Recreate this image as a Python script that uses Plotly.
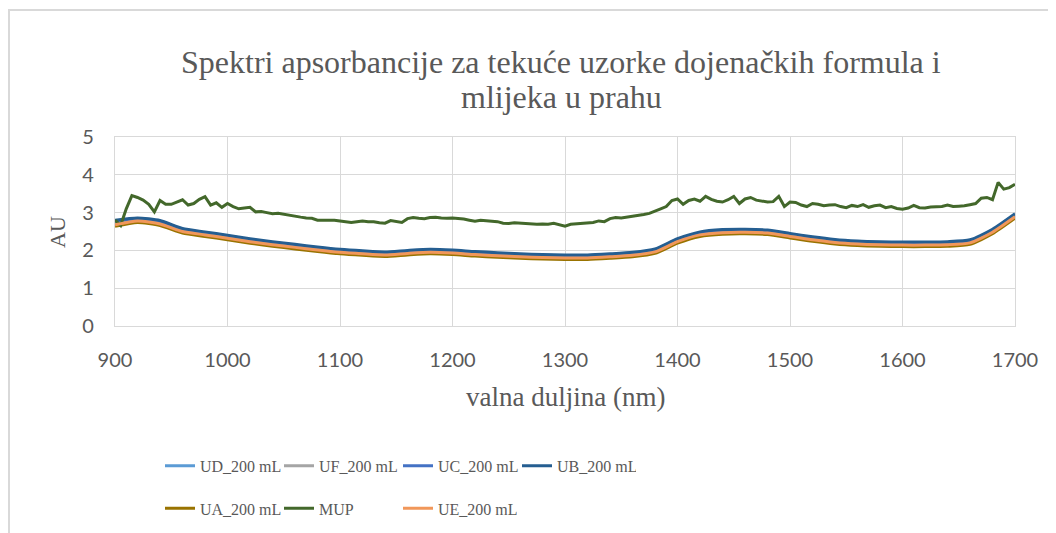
import plotly.graph_objects as go

# ---- data ----
wl_smooth = list(range(900, 1701, 20))

ud_200 = [2.75, 2.82, 2.75, 2.54, 2.45, 2.36, 2.27, 2.19, 2.12, 2.05, 1.99, 1.95, 1.92, 1.96, 1.99, 1.97, 1.93, 1.90, 1.87, 1.85, 1.84,
          1.84, 1.87, 1.91, 2.00, 2.27, 2.45, 2.51, 2.52, 2.50, 2.41, 2.32, 2.25, 2.21, 2.19, 2.18, 2.18, 2.19, 2.24, 2.52, 2.93]
uf_200 = [2.72, 2.80, 2.73, 2.52, 2.43, 2.34, 2.25, 2.17, 2.10, 2.03, 1.97, 1.93, 1.90, 1.94, 1.97, 1.95, 1.91, 1.88, 1.85, 1.83, 1.82,
          1.82, 1.85, 1.89, 1.98, 2.25, 2.43, 2.49, 2.50, 2.48, 2.39, 2.30, 2.23, 2.19, 2.17, 2.16, 2.16, 2.17, 2.22, 2.50, 2.91]
uc_200 = [2.78, 2.84, 2.77, 2.56, 2.47, 2.38, 2.29, 2.21, 2.14, 2.07, 2.01, 1.97, 1.94, 1.98, 2.01, 1.99, 1.95, 1.92, 1.89, 1.87, 1.86,
          1.86, 1.89, 1.93, 2.02, 2.29, 2.47, 2.53, 2.54, 2.52, 2.43, 2.34, 2.27, 2.23, 2.21, 2.20, 2.20, 2.21, 2.26, 2.54, 2.95]
ub_200 = [2.80, 2.86, 2.79, 2.58, 2.49, 2.40, 2.31, 2.23, 2.16, 2.09, 2.03, 1.99, 1.96, 2.00, 2.03, 2.01, 1.97, 1.94, 1.91, 1.89, 1.88,
          1.88, 1.91, 1.95, 2.04, 2.31, 2.49, 2.55, 2.56, 2.54, 2.45, 2.36, 2.29, 2.25, 2.23, 2.22, 2.22, 2.23, 2.28, 2.56, 2.97]
ua_200 = [2.64, 2.74, 2.66, 2.46, 2.37, 2.28, 2.19, 2.11, 2.04, 1.97, 1.91, 1.87, 1.84, 1.88, 1.91, 1.89, 1.85, 1.82, 1.79, 1.77, 1.76,
          1.76, 1.79, 1.83, 1.92, 2.19, 2.37, 2.43, 2.44, 2.42, 2.33, 2.24, 2.17, 2.13, 2.11, 2.10, 2.10, 2.11, 2.16, 2.44, 2.85]
ue_200 = [2.68, 2.78, 2.70, 2.50, 2.41, 2.32, 2.23, 2.15, 2.08, 2.01, 1.95, 1.91, 1.88, 1.92, 1.95, 1.93, 1.89, 1.86, 1.83, 1.81, 1.80,
          1.80, 1.83, 1.87, 1.96, 2.23, 2.41, 2.47, 2.48, 2.46, 2.37, 2.28, 2.21, 2.17, 2.15, 2.14, 2.14, 2.15, 2.20, 2.48, 2.89]

wl_mup = list(range(900, 1701, 5))
mup = [2.80, 2.66, 3.10, 3.45, 3.40, 3.33, 3.22, 3.02, 3.32, 3.22, 3.22, 3.28, 3.34, 3.20, 3.24, 3.35, 3.42, 3.20, 3.26, 3.14,
       3.24, 3.16, 3.10, 3.12, 3.14, 3.02, 3.03, 3.00, 2.97, 2.98, 2.95, 2.93, 2.90, 2.88, 2.86, 2.85, 2.80, 2.80, 2.81, 2.80,
       2.78, 2.76, 2.74, 2.76, 2.78, 2.76, 2.76, 2.73, 2.72, 2.79, 2.76, 2.74, 2.84, 2.87, 2.85, 2.84, 2.87, 2.88, 2.86, 2.85,
       2.86, 2.85, 2.83, 2.80, 2.77, 2.80, 2.79, 2.77, 2.76, 2.72, 2.71, 2.73, 2.72, 2.70, 2.71, 2.69, 2.70, 2.69, 2.72, 2.68,
       2.64, 2.69, 2.70, 2.70, 2.72, 2.74, 2.78, 2.76, 2.84, 2.87, 2.86, 2.88, 2.90, 2.93, 2.95, 2.98, 3.03, 3.10, 3.16, 3.32,
       3.36, 3.22, 3.32, 3.36, 3.30, 3.43, 3.35, 3.30, 3.28, 3.34, 3.43, 3.24, 3.36, 3.40, 3.33, 3.30, 3.28, 3.29, 3.43, 3.16,
       3.28, 3.27, 3.20, 3.16, 3.24, 3.22, 3.18, 3.20, 3.21, 3.16, 3.13, 3.19, 3.16, 3.21, 3.14, 3.18, 3.20, 3.13, 3.16, 3.11,
       3.09, 3.12, 3.19, 3.13, 3.12, 3.15, 3.16, 3.16, 3.20, 3.16, 3.17, 3.18, 3.21, 3.24, 3.38, 3.40, 3.34, 3.80, 3.62, 3.66,
       3.75]

x_ticks = [900, 1000, 1100, 1200, 1300, 1400, 1500, 1600, 1700]
y_ticks = [0, 1, 2, 3, 4, 5]

title_line1 = "Spektri apsorbancije za tekuće uzorke dojenačkih formula i"
title_line2 = "mlijeka u prahu"
x_title = "valna duljina (nm)"
y_title = "AU"

SERIF = "Liberation Serif"
SANS = "Lato"
GREY = "#595959"
GRID = "#D9D9D9"

fig = go.Figure()

smooth_series = [
    ("UD_200 mL", ud_200, "#5B9BD5", "legend"),
    ("UF_200 mL", uf_200, "#A5A5A5", "legend"),
    ("UC_200 mL", uc_200, "#4472C4", "legend"),
    ("UB_200 mL", ub_200, "#255E91", "legend"),
    ("UA_200 mL", ua_200, "#997300", "legend2"),
]
for name, vals, col, lg in smooth_series:
    fig.add_trace(go.Scatter(x=wl_smooth, y=vals, name=name, mode="lines",
                             line=dict(color=col, width=3, shape="spline", smoothing=0.6),
                             legend=lg))
fig.add_trace(go.Scatter(x=wl_mup, y=mup, name="MUP", mode="lines",
                         line=dict(color="#43682B", width=3), legend="legend2"))
fig.add_trace(go.Scatter(x=wl_smooth, y=ue_200, name="UE_200 mL", mode="lines",
                         line=dict(color="#F1975A", width=3, shape="spline", smoothing=0.6),
                         legend="legend2"))

leg_common = dict(orientation="h", xanchor="left", yanchor="middle",
                  font=dict(family=SERIF, size=16, color=GREY),
                  entrywidth=74, entrywidthmode="pixels", bgcolor="rgba(0,0,0,0)",
                  traceorder="normal", itemwidth=30)

fig.update_layout(
    width=1056, height=533,
    margin=dict(l=107, r=49, t=129, b=215, pad=0),
    paper_bgcolor="white", plot_bgcolor="white",
    xaxis=dict(range=[900, 1700], tickvals=x_ticks, showgrid=True, gridcolor=GRID, gridwidth=1.3,
               showline=True, linecolor=GRID, linewidth=1.3, mirror=True, zeroline=False,
               ticks="", ticklabelstandoff=16,
               tickfont=dict(family=SANS, size=20, color=GREY)),
    yaxis=dict(range=[0, 5], tickvals=y_ticks, showgrid=True, gridcolor=GRID, gridwidth=1.3,
               showline=True, linecolor=GRID, linewidth=1.3, mirror=True, zeroline=False,
               ticks="", ticklabelstandoff=16,
               tickfont=dict(family=SANS, size=20, color=GREY)),
    legend=dict(x=0.05, y=-0.74, **leg_common),
    legend2=dict(x=0.05, y=-0.965, **leg_common),
    showlegend=True,
    annotations=[
        dict(text=title_line1, xref="paper", yref="paper", x=0.4956, y=1.397, showarrow=False,
             font=dict(family=SERIF, size=32, color=GREY), xanchor="center", yanchor="middle"),
        dict(text=title_line2, xref="paper", yref="paper", x=0.4956, y=1.212, showarrow=False,
             font=dict(family=SERIF, size=32, color=GREY), xanchor="center", yanchor="middle"),
        dict(text=y_title, xref="paper", yref="paper", x=-0.064, y=0.5, showarrow=False,
             textangle=-90, font=dict(family=SERIF, size=22, color=GREY),
             xanchor="center", yanchor="middle"),
        dict(text=x_title, xref="paper", yref="paper", x=0.5, y=-0.376, showarrow=False,
             font=dict(family=SERIF, size=27, color=GREY), xanchor="center", yanchor="middle"),
    ],
    shapes=[dict(type="rect", xref="paper", yref="paper", x0=-0.1178, x1=1.2, y0=-1.3, y1=1.672,
                 line=dict(color=GRID, width=2), fillcolor="rgba(0,0,0,0)", layer="below")],
)

fig.write_html("out.html")
